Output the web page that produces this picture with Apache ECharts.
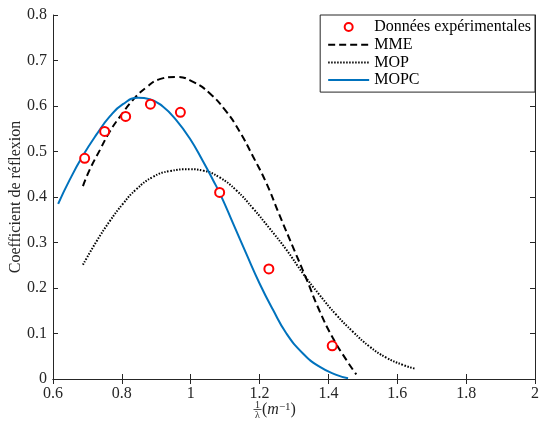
<!DOCTYPE html>
<html>
<head>
<meta charset="utf-8">
<script src="https://cdn.jsdelivr.net/npm/echarts@6/dist/echarts.min.js"></script>
<style>
html,body{margin:0;padding:0;background:#fff;}
#main{width:542px;height:421px;}
</style>
</head>
<body>
<div id="main"></div>
<script>
// donnees
var invLambda = [0.692, 0.75, 0.811, 0.883, 0.97, 1.084, 1.227, 1.411];
var reflexion = [0.485, 0.544, 0.577, 0.604, 0.586, 0.41, 0.242, 0.073];

// MME (tirets)
var mmeX = [0.687, 0.706, 0.736, 0.765, 0.798, 0.832, 0.871, 0.91, 0.958, 1.007, 1.055, 1.103, 1.142, 1.181, 1.22, 1.258, 1.297, 1.336, 1.374, 1.413, 1.452, 1.481];
var mmeY = [0.424, 0.459, 0.503, 0.544, 0.58, 0.613, 0.641, 0.659, 0.664, 0.653, 0.628, 0.588, 0.544, 0.489, 0.43, 0.36, 0.29, 0.22, 0.15, 0.09, 0.042, 0.01];

// MOP (pointilles)
var mopX = [0.687, 0.726, 0.765, 0.803, 0.842, 0.89, 0.939, 0.997, 1.036, 1.084, 1.132, 1.181, 1.229, 1.278, 1.326, 1.374, 1.423, 1.471, 1.52, 1.568, 1.616, 1.65];
var mopY = [0.251, 0.302, 0.347, 0.385, 0.417, 0.444, 0.457, 0.461, 0.458, 0.443, 0.415, 0.375, 0.331, 0.284, 0.232, 0.185, 0.141, 0.104, 0.071, 0.047, 0.031, 0.023];

// MOPC (trait plein bleu)
var mopcX = [0.615, 0.648, 0.687, 0.726, 0.765, 0.803, 0.847, 0.881, 0.919, 0.958, 0.997, 1.036, 1.065, 1.089, 1.123, 1.161, 1.2, 1.239, 1.278, 1.326, 1.374, 1.423, 1.457];
var mopcY = [0.385, 0.437, 0.491, 0.537, 0.577, 0.604, 0.618, 0.615, 0.599, 0.569, 0.529, 0.478, 0.437, 0.401, 0.342, 0.276, 0.21, 0.152, 0.1, 0.056, 0.027, 0.009, 0.0015];

var legendNames = ['Données expérimentales', 'MME', 'MOP', 'MOPC'];

function pairs(xs, ys) {
    var out = [];
    for (var i = 0; i < xs.length; i++) out.push([xs[i], ys[i]]);
    return out;
}

function fmt(v) {
    return String(Math.round(v * 10) / 10);
}

var font = 'Liberation Serif';
var axisCol = '#262626';
var noSymbol = {opacity: 0, color: 'rgba(0,0,0,0)', borderWidth: 0};

var myChart = echarts.init(document.getElementById('main'));
var option = {
    animation: false,
    backgroundColor: '#fff',
    grid: {left: 53, right: 7, top: 15, bottom: 42, outerBoundsMode: 'none', containLabel: false},
    legend: {
        orient: 'vertical',
        right: 7,
        top: 15,
        data: [
            {name: legendNames[0]},
            {name: legendNames[1], itemStyle: noSymbol},
            {name: legendNames[2], itemStyle: noSymbol},
            {name: legendNames[3], itemStyle: noSymbol}
        ],
        backgroundColor: '#fff',
        borderColor: axisCol,
        borderWidth: 1,
        borderRadius: 0,
        padding: [4, 4, 4, 7],
        itemWidth: 41,
        itemHeight: 8,
        itemGap: 1.7,
        textStyle: {fontFamily: font, fontSize: 16, color: '#000'}
    },
    graphic: [{
        type: 'group',
        left: 251,
        top: 400,
        children: [
            {type: 'text', x: 5.5, y: 0, style: {text: '1', font: '10px "Liberation Serif"', fill: axisCol, align: 'center', verticalAlign: 'top'}},
            {type: 'line', shape: {x1: 1.5, y1: 9.5, x2: 9.5, y2: 9.5}, style: {stroke: axisCol, lineWidth: 0.8}},
            {type: 'text', x: 5.5, y: 10.5, style: {text: 'λ', font: '10px "Liberation Serif"', fill: axisCol, align: 'center', verticalAlign: 'top'}},
            {type: 'text', x: 10, y: 10, style: {
                text: '({m|m}{s|\u22121})',
                font: '16px "Liberation Serif"', fill: axisCol, verticalAlign: 'middle',
                rich: {
                    m: {fontFamily: font, fontSize: 16, fontStyle: 'italic', fill: axisCol, verticalAlign: 'bottom'},
                    s: {fontFamily: font, fontSize: 11, fill: axisCol, verticalAlign: 'top'}
                }
            }}
        ]
    }],
    xAxis: [{
        type: 'value', min: 0.6, max: 2, interval: 0.2,
        axisLine: {lineStyle: {color: axisCol, width: 1}},
        axisTick: {inside: true, length: 5, lineStyle: {color: axisCol}},
        axisLabel: {fontFamily: font, fontSize: 16, color: axisCol, margin: 7, formatter: fmt},
        splitLine: {show: false}
    }, {
        type: 'value', min: 0.6, max: 2, interval: 0.2, position: 'top',
        axisLine: {lineStyle: {color: axisCol, width: 1}},
        axisTick: {inside: true, length: 5, lineStyle: {color: axisCol}},
        axisLabel: {show: false},
        splitLine: {show: false}
    }],
    yAxis: [{
        type: 'value', min: 0, max: 0.8, interval: 0.1,
        name: 'Coefficient de réflexion',
        nameLocation: 'middle', nameGap: 29, nameMoveOverlap: false,
        nameTextStyle: {fontFamily: font, fontSize: 16, color: axisCol},
        axisLine: {show: true, lineStyle: {color: axisCol, width: 1}},
        axisTick: {show: true, inside: true, length: 5, lineStyle: {color: axisCol}},
        axisLabel: {fontFamily: font, fontSize: 16, color: axisCol, margin: 6, formatter: fmt},
        splitLine: {show: false}
    }, {
        type: 'value', min: 0, max: 0.8, interval: 0.1, position: 'right',
        axisLine: {show: true, lineStyle: {color: axisCol, width: 1}},
        axisTick: {show: true, inside: true, length: 5, lineStyle: {color: axisCol}},
        axisLabel: {show: false},
        splitLine: {show: false}
    }],
    series: [{
        name: legendNames[1],
        type: 'line',
        data: pairs(mmeX, mmeY),
        smooth: 0.5,
        symbol: 'none',
        lineStyle: {color: '#000', width: 2, type: [7, 4]},
        itemStyle: {color: '#000'},
        z: 3
    }, {
        name: legendNames[2],
        type: 'line',
        data: pairs(mopX, mopY),
        smooth: 0.5,
        symbol: 'none',
        lineStyle: {color: '#000', width: 2, type: [1.5, 1.5]},
        itemStyle: {color: '#000'},
        z: 3
    }, {
        name: legendNames[3],
        type: 'line',
        data: pairs(mopcX, mopcY),
        smooth: 0.5,
        symbol: 'none',
        lineStyle: {color: '#0072BD', width: 2},
        itemStyle: {color: '#0072BD'},
        z: 4
    }, {
        name: legendNames[0],
        type: 'scatter',
        data: pairs(invLambda, reflexion),
        symbol: 'circle',
        symbolSize: 9,
        itemStyle: {color: '#fff', borderColor: '#FF0000', borderWidth: 2, opacity: 1},
        z: 5
    }]
};
myChart.setOption(option);
</script>
</body>
</html>
